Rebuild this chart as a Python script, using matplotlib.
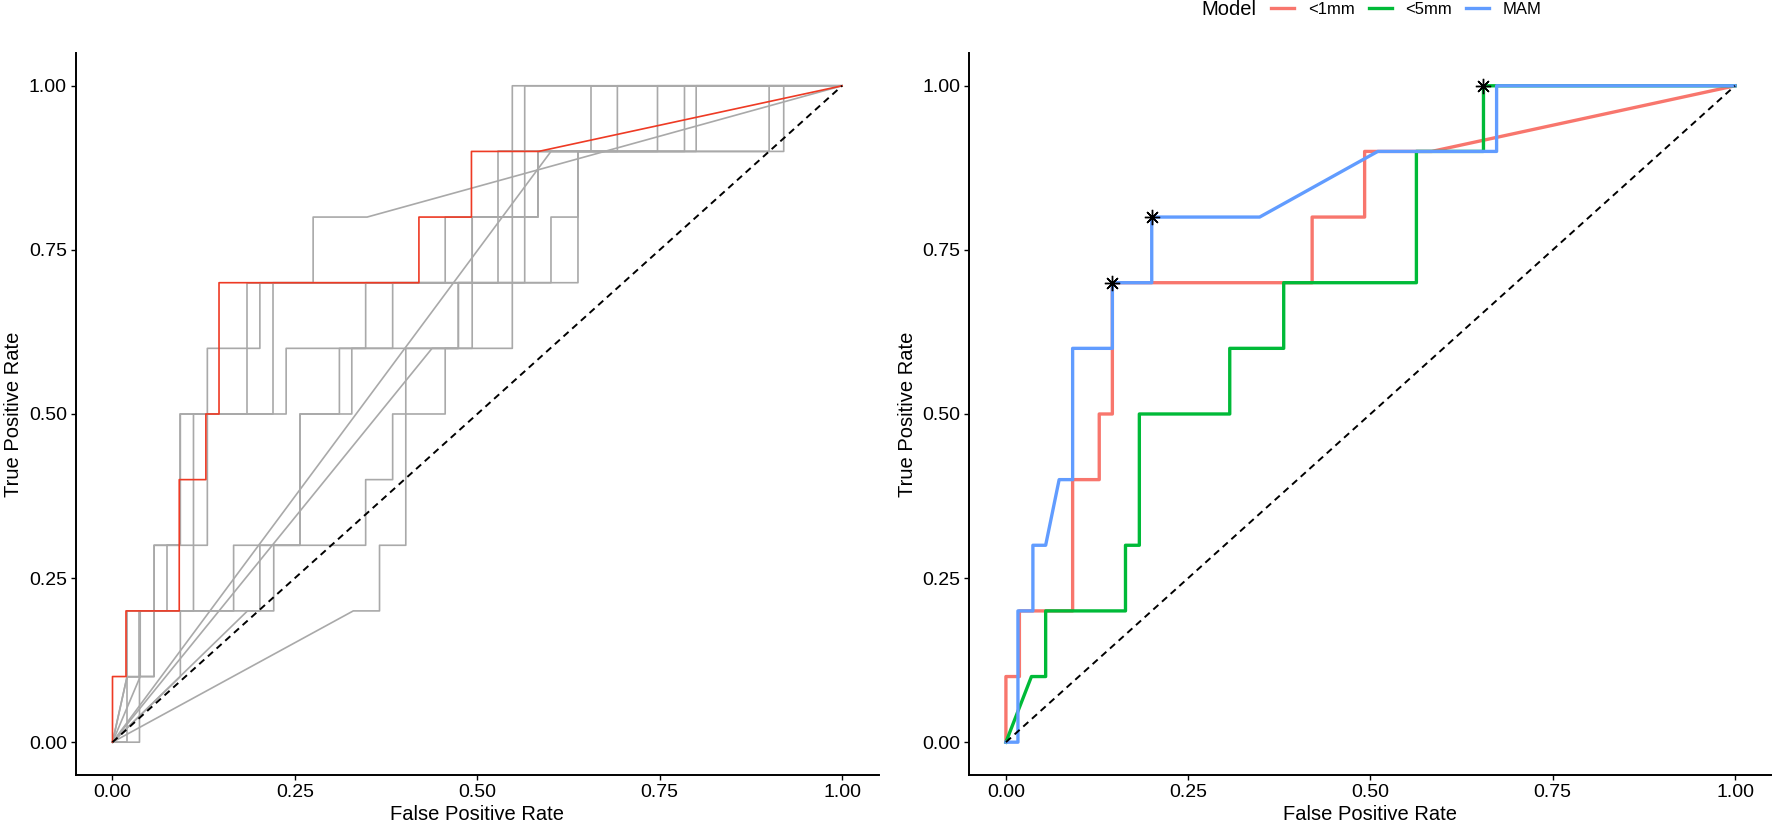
import matplotlib
matplotlib.use("Agg")
import matplotlib.pyplot as plt

plt.rcParams['font.family'] = ['Liberation Sans', 'DejaVu Sans']

ticks = [0, 0.25, 0.5, 0.75, 1.0]
tick_labels = ["0.00", "0.25", "0.50", "0.75", "1.00"]

# highlighted curve (left, red) == <1mm model (right)
lt1mm_fpr = [0, 0, 0.0185, 0.0185, 0.0915, 0.0915, 0.128, 0.128, 0.146, 0.146,
             0.42, 0.42, 0.492, 0.492, 0.584, 1.0]
lt1mm_tpr = [0, 0.1, 0.1, 0.2, 0.2, 0.4, 0.4, 0.5, 0.5, 0.7,
             0.7, 0.8, 0.8, 0.9, 0.9, 1.0]

lt5mm_fpr = [0, 0.035, 0.0545, 0.0545, 0.164, 0.164, 0.183, 0.183, 0.307, 0.307,
             0.381, 0.381, 0.563, 0.563, 0.655, 0.655, 1.0]
lt5mm_tpr = [0, 0.1, 0.1, 0.2, 0.2, 0.3, 0.3, 0.5, 0.5, 0.6,
             0.6, 0.7, 0.7, 0.9, 0.9, 1.0, 1.0]

mam_fpr = [0, 0.0165, 0.0165, 0.037, 0.037, 0.0545, 0.073, 0.0915, 0.0915, 0.146,
           0.146, 0.2, 0.2, 0.348, 0.51, 0.673, 0.673, 1.0]
mam_tpr = [0, 0, 0.2, 0.2, 0.3, 0.3, 0.4, 0.4, 0.6, 0.6,
           0.7, 0.7, 0.8, 0.8, 0.9, 0.9, 1.0, 1.0]

# optimal cut-off points
best_fpr = [0.146, 0.2, 0.655]
best_tpr = [0.7, 0.8, 1.0]

# grey curves of the left panel
gray_fpr = [
    [0, 0.33, 0.366, 0.366, 0.402, 0.402, 0.548, 0.548, 1],
    [0, 0.601, 0.92, 0.92, 1],
    [0, 0.438, 0.474, 0.474, 0.601, 0.601, 0.638, 0.638, 0.90, 0.90, 1],
    [0, 0.185, 0.202, 0.202, 0.347, 0.347, 0.384, 0.384, 0.456, 0.456, 0.493, 0.493, 0.583, 0.583, 0.80, 0.80, 1],
    [0, 0.037, 0.037, 0.057, 0.057, 0.130, 0.130, 0.202, 0.202, 0.275, 0.275, 0.349, 1],
    [0, 0.020, 0.020, 0.037, 0.037, 0.075, 0.075, 0.093, 0.093, 0.184, 0.184, 0.529, 0.529, 0.656, 0.656, 1],
    [0, 0.038, 0.038, 0.111, 0.111, 0.220, 0.220, 0.565, 0.565, 1],
    [0, 0.093, 0.093, 0.166, 0.166, 0.257, 0.257, 0.311, 0.311, 0.347, 0.347, 0.493, 0.493, 0.583, 0.583, 0.747, 0.747, 1],
    [0, 0.020, 0.020, 0.221, 0.221, 0.257, 0.257, 0.328, 0.328, 0.384, 0.384, 0.456, 0.456, 0.583, 0.583, 0.784, 0.784, 1],
    [0, 0.020, 0.057, 0.057, 0.093, 0.093, 0.238, 0.238, 0.474, 0.474, 0.638, 0.638, 0.692, 0.692, 1],
]
gray_tpr = [
    [0, 0.2, 0.2, 0.3, 0.3, 0.6, 0.6, 1.0, 1],
    [0, 0.9, 0.9, 1.0, 1],
    [0, 0.6, 0.6, 0.7, 0.7, 0.8, 0.8, 0.9, 0.9, 1.0, 1],
    [0, 0.2, 0.2, 0.3, 0.3, 0.4, 0.4, 0.5, 0.5, 0.6, 0.6, 0.8, 0.8, 0.9, 0.9, 1.0, 1],
    [0, 0, 0.1, 0.1, 0.3, 0.3, 0.6, 0.6, 0.7, 0.7, 0.8, 0.8, 1],
    [0, 0, 0.1, 0.1, 0.2, 0.2, 0.3, 0.3, 0.5, 0.5, 0.7, 0.7, 0.9, 0.9, 1.0, 1],
    [0, 0.1, 0.2, 0.2, 0.5, 0.5, 0.7, 0.7, 1.0, 1],
    [0, 0.1, 0.2, 0.2, 0.3, 0.3, 0.5, 0.5, 0.6, 0.6, 0.7, 0.7, 0.8, 0.8, 0.9, 0.9, 1.0, 1],
    [0, 0.1, 0.2, 0.2, 0.3, 0.3, 0.5, 0.5, 0.6, 0.6, 0.7, 0.7, 0.8, 0.8, 0.9, 0.9, 1.0, 1],
    [0, 0.1, 0.1, 0.3, 0.3, 0.5, 0.5, 0.6, 0.6, 0.7, 0.7, 0.9, 0.9, 1.0, 1],
]

model_names = ["<1mm", "<5mm", "MAM"]
model_colors = ["#F8766D", "#00BA38", "#619CFF"]


def style_axes(ax):
    ax.set_xlim(-0.05, 1.05)
    ax.set_ylim(-0.05, 1.05)
    ax.set_xticks(ticks)
    ax.set_xticklabels(tick_labels)
    ax.set_yticks(ticks)
    ax.set_yticklabels(tick_labels)
    for s in ["top", "right"]:
        ax.spines[s].set_visible(False)
    for s in ["left", "bottom"]:
        ax.spines[s].set_linewidth(1.4)
    ax.tick_params(length=3.5, width=1.0, pad=3, labelsize=14, colors="black")
    ax.set_xlabel("False Positive Rate", fontsize=14.5, labelpad=3)
    ax.set_ylabel("True Positive Rate", fontsize=14.5, labelpad=4)
    ax.plot([0, 1], [0, 1], color="black", lw=1.4, ls=(0, (3.5, 2.5)), zorder=5)


fig = plt.figure(figsize=(17.72, 8.25), dpi=100)
ax1 = fig.add_axes([0.0429, 0.0606, 0.4529, 0.8752])
ax2 = fig.add_axes([0.5471, 0.0606, 0.4526, 0.8752])

for fx, ty in zip(gray_fpr, gray_tpr):
    ax1.plot(fx, ty, color="#A9A9A9", lw=1.2)
ax1.plot(lt1mm_fpr, lt1mm_tpr, color="#EE3A24", lw=1.2, zorder=4)
style_axes(ax1)

handles = []
for fx, ty, c, n in zip([lt1mm_fpr, lt5mm_fpr, mam_fpr],
                        [lt1mm_tpr, lt5mm_tpr, mam_tpr],
                        model_colors, model_names):
    h, = ax2.plot(fx, ty, color=c, lw=2.4, label=n)
    handles.append(h)
ax2.plot(best_fpr, best_tpr, ls="none", marker=(8, 2, 0), ms=11,
         color="black", mew=1.0, zorder=6)
style_axes(ax2)

fig.text(1201 / 1772, 0.989, "Model", fontsize=14.5, ha="left", va="center")
fig.legend(handles, model_names, loc="center left",
           bbox_to_anchor=(1271 / 1772, 0.989), ncol=3, frameon=False,
           fontsize=12, handlelength=1.4, handletextpad=0.8,
           columnspacing=0.85, borderaxespad=0, borderpad=0)

fig.savefig("out.png", dpi=100)
